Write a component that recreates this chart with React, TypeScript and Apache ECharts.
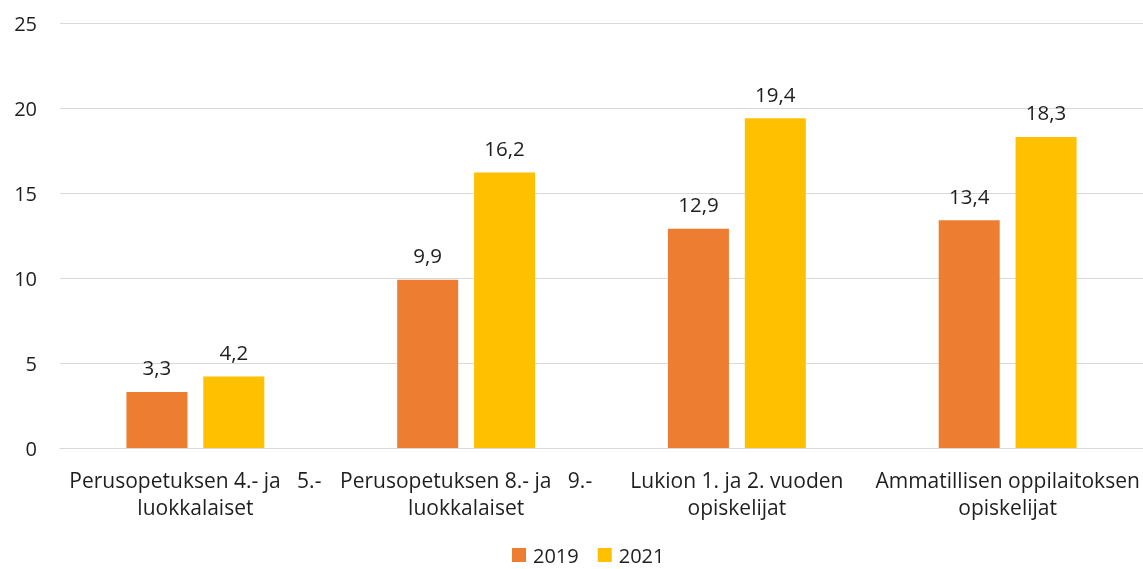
import React, { useEffect, useRef } from "react";
import * as echarts from "echarts";

const categories = [
  "Perusopetuksen 4.- ja\u00a0\u00a0\u00a05.-\nluokkalaiset",
  "Perusopetuksen 8.- ja\u00a0\u00a0\u00a09.-\nluokkalaiset",
  "Lukion 1. ja 2. vuoden\nopiskelijat",
  "Ammatillisen oppilaitoksen\nopiskelijat",
];
const values2019 = [3.3, 9.9, 12.9, 13.4];
const values2021 = [4.2, 16.2, 19.4, 18.3];
const seriesNames = ["2019", "2021"];
const colors = ["#ED7D31", "#FFC000"];

const FONT = "'Open Sans', Lato, sans-serif";
const TEXT = "#1F1F1F";
const FS = 20;

export default function App() {
  const ref = useRef<HTMLDivElement>(null);
  useEffect(() => {
    document.body.style.margin = "0";
    document.body.style.overflow = "hidden";
    const chart = echarts.init(ref.current!, null, { renderer: "svg" });
    const label = {
      show: true,
      position: "top",
      distance: 14,
      fontFamily: FONT,
      fontSize: 20.5,
      color: TEXT,
      formatter: (p: any) => String(p.value).replace(".", ","),
    };
    chart.setOption({
      animation: false,
      textStyle: { fontFamily: FONT },
      legend: {
        top: 545,
        left: 512,
        padding: 0,
        itemWidth: 14,
        itemHeight: 14,
        itemGap: 19,
        icon: "rect",
        textStyle: {
          fontFamily: FONT,
          fontSize: FS,
          lineHeight: 20,
          color: TEXT,
          padding: [0, 0, 0, 2],
        },
        data: seriesNames,
      },
      grid: { left: 60, right: 0, top: 23, bottom: 121, containLabel: false },
      xAxis: {
        type: "category",
        data: categories,
        axisLine: { lineStyle: { color: "#D9D9D9", width: 1 } },
        axisTick: { show: false },
        axisLabel: {
          interval: 0,
          margin: 18,
          fontFamily: FONT,
          fontSize: 21,
          lineHeight: 27,
          color: TEXT,
        },
      },
      yAxis: {
        type: "value",
        min: 0,
        max: 25,
        interval: 5,
        splitLine: { lineStyle: { color: "#D9D9D9", width: 1 } },
        axisLine: { show: false },
        axisTick: { show: false },
        axisLabel: { margin: 23, fontFamily: FONT, fontSize: FS, color: TEXT },
      },
      series: [
        {
          name: seriesNames[0],
          type: "bar",
          data: values2019,
          barWidth: 61,
          barGap: "26%",
          itemStyle: { color: colors[0] },
          label,
        },
        {
          name: seriesNames[1],
          type: "bar",
          data: values2021,
          barWidth: 61,
          barGap: "26%",
          itemStyle: { color: colors[1] },
          label,
        },
      ],
    });
    return () => chart.dispose();
  }, []);
  return (
    <div
      ref={ref}
      style={{ position: "fixed", left: 0, top: 0, width: 1143, height: 569 }}
    />
  );
}
